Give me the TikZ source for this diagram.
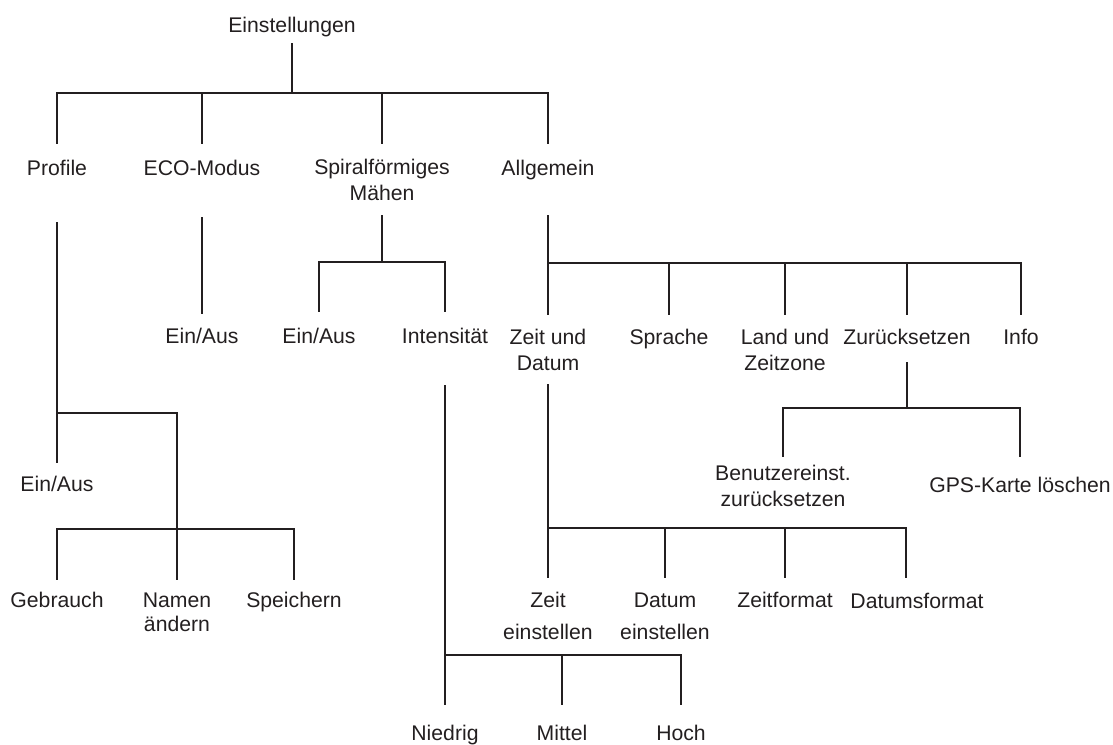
\documentclass[tikz,border=0pt]{standalone}
\usepackage{fontspec}
\setmainfont{Liberation Sans}
\usepackage{tikz}
\usetikzlibrary{calc}
\definecolor{inkCol}{RGB}{35,31,32}
\tikzset{
  item/.style={align=center,inner sep=0pt,text height=11.4pt,text depth=0pt,
               font=\fontsize{15.9}{19.5}\selectfont,text=inkCol},
  link/.style={draw=inkCol,line width=1.8pt},
}

\begin{document}
\begin{tikzpicture}[x=0.75pt,y=0.75pt]
    \useasboundingbox (0,0) rectangle (1113,-744);
    % --- root and first level ---
    \node[item] (root) at (292,-25) {Einstellungen};
    \node[item] (prof) at (57,-168) {Profile};
    \node[item] (eco) at (202,-168) {ECO-Modus};
    \node[item] (spir) at (382,-193) {Spiralförmiges\\Mähen};
    \node[item] (allg) at (548,-168) {Allgemein};
    % --- Profile ---
    \node[item] (profEA) at (57,-484) {Ein/Aus};
    \node[item] (gebr) at (57,-600) {Gebrauch};
    \node[item] (namen) at (177,-624) {Namen\\[-1.5pt]ändern};
    \node[item] (speich) at (294,-600) {Speichern};
    % --- ECO-Modus / spiral ---
    \node[item] (ecoEA) at (202,-336) {Ein/Aus};
    \node[item] (spirEA) at (319,-336) {Ein/Aus};
    \node[item] (inten) at (445,-336) {Intensität};
    \node[item] (nied) at (445,-733) {Niedrig};
    \node[item] (mitt) at (562,-733) {Mittel};
    \node[item] (hoch) at (681,-733) {Hoch};
    % --- Allgemein ---
    \node[item] (zud) at (548,-363) {Zeit und\\Datum};
    \node[item] (spr) at (669,-337) {Sprache};
    \node[item] (land) at (785,-363) {Land und\\Zeitzone};
    \node[item] (zur) at (907,-337) {Zurücksetzen};
    \node[item] (info) at (1021,-337) {Info};
    \node[item] (benu) at (783,-499) {Benutzereinst.\\zurücksetzen};
    \node[item] (gps) at (1020,-485) {GPS-Karte löschen};
    \node[item] (zeit) at (548,-632) {Zeit\\[4.5pt]einstellen};
    \node[item] (datum) at (665,-632) {Datum\\[4.5pt]einstellen};
    \node[item] (zfmt) at (785,-600) {Zeitformat};
    \node[item] (dfmt) at (917,-601) {Datumsformat};
    % --- junctions on the bars ---
    \coordinate (jRoot) at (292,-93);
    \coordinate (jProf) at (57,-413);
    \coordinate (jProf2) at (177,-529);
    \coordinate (jSpir) at (382,-262);
    \coordinate (jInt) at (445,-655);
    \coordinate (jAllg) at (548,-263);
    \coordinate (jZur) at (907,-408);
    \coordinate (jZud) at (548,-528);
    % --- stems ---
    \draw[link] ($(root.south)+(0,-10.5)$) -- (jRoot);
    \draw[link] ($(prof.south)+(0,-46.5)$) -- (jProf);
    \draw[link] ($(eco.south)+(0,-41.5)$) -- ($(ecoEA.north)+(0,14.5)$);
    \draw[link] ($(spir.south)+(0,-14.5)$) -- (jSpir);
    \draw[link] ($(allg.south)+(0,-39.5)$) -- (jAllg);
    \draw[link] ($(inten.south)+(0,-41.5)$) -- (jInt);
    \draw[link] ($(zud.south)+(0,-13.5)$) -- (jZud);
    \draw[link] ($(zur.south)+(0,-17.5)$) -- (jZur);
    \draw[link] (jProf) -| (jProf2);
    % --- bars and drops ---
    \foreach \c in {prof,eco,spir,allg}
      \draw[link] (jRoot) -| ($(\c.north |- jRoot)+(0,-51)$);
    \draw[link] (jProf) -- ($(profEA.north |- jProf)+(0,-50)$);
    \foreach \c in {gebr,namen,speich}
      \draw[link] (jProf2) -| ($(\c.north |- jProf2)+(0,-51)$);
    \foreach \c in {spirEA,inten}
      \draw[link] (jSpir) -| ($(\c.north |- jSpir)+(0,-50)$);
    \foreach \c in {nied,mitt,hoch}
      \draw[link] (jInt) -| ($(\c.north |- jInt)+(0,-50)$);
    \foreach \c in {zud,spr,land,zur,info}
      \draw[link] (jAllg) -| ($(\c.north |- jAllg)+(0,-52)$);
    \foreach \c in {benu,gps}
      \draw[link] (jZur) -| ($(\c.north |- jZur)+(0,-49)$);
    \foreach \c in {zeit,datum,zfmt}
      \draw[link] (jZud) -| ($(\c.north |- jZud)+(0,-50)$);
    \draw[link] (jZud) -| ($(dfmt.north |- jZud)+(-11,-50)$);
\end{tikzpicture}
\end{document}
